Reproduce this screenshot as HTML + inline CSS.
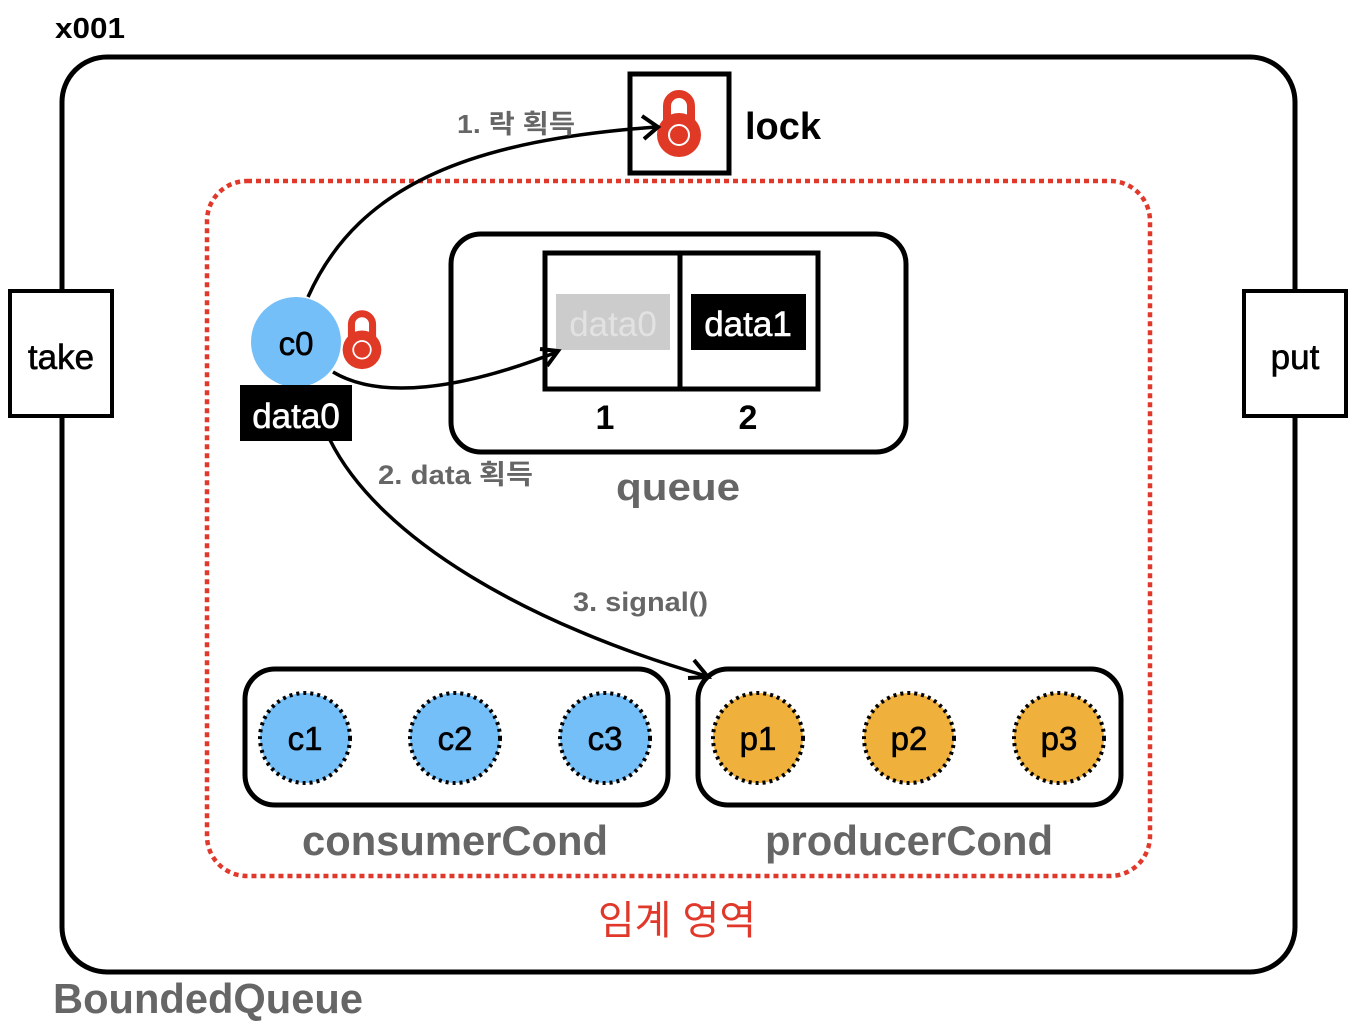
<!DOCTYPE html>
<html><head><meta charset="utf-8"><style>
html,body{margin:0;padding:0;background:#fff;}
svg{display:block;}
text{font-family:"Liberation Sans","Noto Sans CJK KR",sans-serif;}
</style></head><body>
<svg width="1360" height="1028" viewBox="0 0 1360 1028" xmlns="http://www.w3.org/2000/svg">
<defs>
<symbol id="lk" viewBox="0 0 50 70">
<path d="M13 30 V16 A12 12 0 0 1 37 16 V30" fill="none" stroke="#e03a26" stroke-width="8"/>
<circle cx="25" cy="45" r="22" fill="#e03a26"/>
<circle cx="25" cy="45" r="10" fill="#e03a26" stroke="#fff" stroke-width="2"/>
</symbol>
</defs>
<text x="55" y="38" font-size="29" font-weight="bold" fill="#000" textLength="70" lengthAdjust="spacingAndGlyphs">x001</text>
<rect x="62" y="57" width="1233" height="915" rx="45" fill="none" stroke="#000" stroke-width="5"/>
<rect x="10" y="291" width="102" height="125" fill="#fff" stroke="#000" stroke-width="4"/>
<text x="61" y="369" font-size="35" text-anchor="middle" stroke="#000" stroke-width="0.6">take</text>
<rect x="1244" y="291" width="102" height="125" fill="#fff" stroke="#000" stroke-width="4"/>
<text x="1295" y="369" font-size="35" text-anchor="middle" stroke="#000" stroke-width="0.6">put</text>
<rect x="630" y="74" width="99" height="99" fill="#fff" stroke="#000" stroke-width="5"/>
<use href="#lk" x="654" y="90" width="50" height="70"/>
<text x="745" y="139" font-size="38" font-weight="bold">lock</text>
<rect x="207" y="181" width="943" height="695" rx="40" fill="none" stroke="#e0392b" stroke-width="4.5" stroke-dasharray="5 4"/>
<rect x="451" y="234" width="455" height="218" rx="30" fill="none" stroke="#000" stroke-width="5"/>
<rect x="545" y="253" width="273" height="136" fill="#fff" stroke="#000" stroke-width="5"/>
<line x1="680" y1="253" x2="680" y2="389" stroke="#000" stroke-width="5"/>
<rect x="556" y="294" width="114" height="56" fill="#ccc"/>
<text x="613" y="336" font-size="35" fill="#e2e2e2" text-anchor="middle">data0</text>
<rect x="691" y="294" width="115" height="56" fill="#000"/>
<text x="748" y="336" font-size="35" fill="#fff" text-anchor="middle" stroke="#fff" stroke-width="0.6">data1</text>
<text x="605" y="429" font-size="34" font-weight="bold" text-anchor="middle">1</text>
<text x="748" y="429" font-size="34" font-weight="bold" text-anchor="middle">2</text>
<text x="678" y="500" font-size="38" font-weight="bold" fill="#666" text-anchor="middle" textLength="124" lengthAdjust="spacingAndGlyphs">queue</text>
<path d="M308 297 C360 180 480 140 656 127" fill="none" stroke="#000" stroke-width="3.5"/>
<path d="M642 116 L658 127 L644 139" fill="none" stroke="#000" stroke-width="4"/>
<path d="M333 372 C380 400 460 390 557 352" fill="none" stroke="#000" stroke-width="3.5"/>
<path d="M540 349 L558 351 L547 366" fill="none" stroke="#000" stroke-width="4"/>
<path d="M330 440 C380 540 530 625 706 676" fill="none" stroke="#000" stroke-width="3.5"/>
<path d="M694 660 L708 677 L688 678" fill="none" stroke="#000" stroke-width="4"/>
<circle cx="296" cy="342" r="45" fill="#74bff8"/>
<text x="296" y="355" font-size="33" text-anchor="middle" stroke="#000" stroke-width="0.6">c0</text>
<use href="#lk" x="340" y="310" width="44" height="62"/>
<rect x="240" y="385" width="112" height="56" fill="#000"/>
<text x="296" y="428" font-size="35" fill="#fff" text-anchor="middle" stroke="#fff" stroke-width="0.6">data0</text>
<text x="457" y="133" font-size="26" font-weight="bold" fill="#666" textLength="118" lengthAdjust="spacingAndGlyphs">1. 락 획득</text>
<text x="378" y="484" font-size="27" font-weight="bold" fill="#666" textLength="155" lengthAdjust="spacingAndGlyphs">2. data 획득</text>
<text x="573" y="611" font-size="27" font-weight="bold" fill="#666" textLength="135" lengthAdjust="spacingAndGlyphs">3. signal()</text>
<rect x="245" y="669" width="423" height="136" rx="30" fill="none" stroke="#000" stroke-width="5"/>
<rect x="698" y="669" width="423" height="136" rx="30" fill="none" stroke="#000" stroke-width="5"/>
<g stroke="#000" stroke-width="4" stroke-dasharray="3 4">
<circle cx="305" cy="738" r="45" fill="#74bff8"/>
<circle cx="455" cy="738" r="45" fill="#74bff8"/>
<circle cx="605" cy="738" r="45" fill="#74bff8"/>
<circle cx="758" cy="738" r="45" fill="#f0b13c"/>
<circle cx="909" cy="738" r="45" fill="#f0b13c"/>
<circle cx="1059" cy="738" r="45" fill="#f0b13c"/>
</g>
<g font-size="33" text-anchor="middle" stroke="#000" stroke-width="0.6">
<text x="305" y="750">c1</text><text x="455" y="750">c2</text><text x="605" y="750">c3</text>
<text x="758" y="750">p1</text><text x="909" y="750">p2</text><text x="1059" y="750">p3</text>
</g>
<text x="455" y="855" font-size="42" font-weight="bold" fill="#666" text-anchor="middle" textLength="306" lengthAdjust="spacingAndGlyphs">consumerCond</text>
<text x="909" y="855" font-size="42" font-weight="bold" fill="#666" text-anchor="middle" textLength="288" lengthAdjust="spacingAndGlyphs">producerCond</text>
<text x="677" y="934" font-size="40" fill="#e0392b" text-anchor="middle">임계 영역</text>
<text x="53" y="1013" font-size="42" font-weight="bold" fill="#666" textLength="310" lengthAdjust="spacingAndGlyphs">BoundedQueue</text>
</svg>
</body></html>
